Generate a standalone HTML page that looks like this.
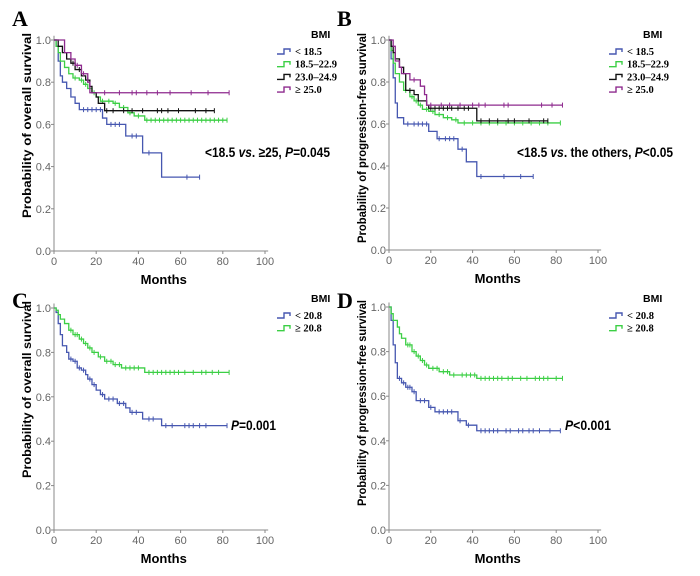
<!DOCTYPE html>
<html><head><meta charset="utf-8"><style>
body{margin:0;background:#fff;width:700px;height:576px;overflow:hidden}
svg{display:block}
text{font-family:"Liberation Sans",sans-serif}
</style></head><body>
<svg id="fig" width="700" height="576"></svg>
<script>
// ---- Data ----
const xTicks=[0,20,40,60,80,100];
const yTicks=[0.0,0.2,0.4,0.6,0.8,1.0];
// Panel A
const aBlueT=[0,1,2,3,4,6,8,10,12,23,25,34,42,51,69];
const aBlueS=[1,0.97,0.9,0.83,0.8,0.77,0.73,0.70,0.67,0.63,0.60,0.545,0.465,0.35,0.35];
const aBlueC=[14,16,18,20,22,27,29,31,37,39,45,63,69];
const aGreenT=[0,1,2,3,5,7,9,12,14,16,18,20,22,28,31,35,38,43,82];
const aGreenS=[1,0.97,0.94,0.9,0.87,0.84,0.82,0.81,0.79,0.77,0.75,0.73,0.71,0.70,0.68,0.655,0.64,0.62,0.62];
const aGreenC=[10,13,15,19,23,26,29,33,36,40,44,46,48,50,52,54,56,58,60,62,64,66,68,70,72,74,76,78,80,82];
const aBlackT=[0,2,4,6,8,10,13,15,17,18,20,21,24,76];
const aBlackS=[1,0.97,0.94,0.91,0.89,0.86,0.83,0.81,0.78,0.75,0.73,0.70,0.665,0.665];
const aBlackC=[9,12,16,25,28,33,37,42,49,51,54,59,67,72,76];
const aPurpleT=[0,5,8,10,13,16,17,83];
const aPurpleS=[1,0.94,0.91,0.88,0.84,0.80,0.75,0.75];
const aPurpleC=[11,14,24,31,37,39,44,49,55,65,73,83];
// Panel B
const bBlueT=[0,1,2,3,4,7,19,23,33,37,42,69];
const bBlueS=[1,0.91,0.82,0.70,0.63,0.60,0.565,0.53,0.48,0.42,0.35,0.35];
const bBlueC=[9,12,14,16,18,24,27,29,31,35,44,55,63,69];
const bGreenT=[0,1,2,3,5,7,10,12,14,16,19,22,26,30,33,82];
const bGreenS=[1,0.95,0.89,0.84,0.80,0.76,0.73,0.71,0.69,0.67,0.66,0.645,0.63,0.62,0.605,0.605];
const bGreenC=[8,11,13,15,18,21,24,28,32,36,40,44,48,52,56,60,64,68,72,76,82];
const bBlackT=[0,1,2,3,5,7,8,12,14,18,19,42,76];
const bBlackS=[1,0.97,0.94,0.91,0.87,0.84,0.76,0.74,0.71,0.69,0.675,0.615,0.615];
const bBlackC=[10,20,22,24,26,28,30,33,36,38,44,48,52,57,60,67,74,76];
const bPurpleT=[0,2,3,5,6,10,15,17,18,83];
const bPurpleS=[1,0.97,0.9,0.87,0.84,0.81,0.78,0.74,0.69,0.69];
const bPurpleC=[12,20,25,29,34,40,43,46,55,57,73,78,83];
// Panel C
const cBlueT=[0,1,2,3,4,6,7,9,11,13,15,16,18,20,22,24,30,34,36,42,51,82];
const cBlueS=[1,0.98,0.93,0.88,0.83,0.80,0.77,0.76,0.73,0.72,0.70,0.68,0.655,0.63,0.61,0.59,0.57,0.55,0.53,0.50,0.47,0.47];
const cBlueC=[8,10,12,14,17,19,23,26,28,31,33,37,39,45,47,53,56,62,64,66,69,72,82];
const cGreenT=[0,1,2,3,5,7,9,12,14,16,18,21,24,28,32,43,83];
const cGreenS=[1,0.99,0.97,0.95,0.93,0.90,0.88,0.86,0.84,0.82,0.80,0.78,0.76,0.745,0.73,0.71,0.71];
const cGreenC=[8,10,11,13,15,17,19,22,25,27,29,31,34,36,38,40,45,47,49,51,53,55,57,59,62,66,70,72,75,78,83];
// Panel D
const dBlueT=[0,1,2,3,4,6,8,11,13,19,22,33,37,42,82];
const dBlueS=[1,0.94,0.83,0.75,0.68,0.66,0.64,0.62,0.58,0.55,0.53,0.49,0.47,0.445,0.445];
const dBlueC=[5,7,9,10,12,15,17,20,24,26,28,30,34,38,44,46,48,50,52,56,58,62,64,67,69,72,77,82];
const dGreenT=[0,1,2,4,5,6,8,11,13,15,17,19,24,29,42,83];
const dGreenS=[1,0.97,0.94,0.91,0.88,0.86,0.83,0.80,0.78,0.76,0.74,0.725,0.71,0.695,0.68,0.68];
const dGreenC=[9,10,12,14,16,18,21,23,26,28,31,35,37,39,41,44,46,48,50,52,54,57,59,63,66,70,72,74,76,80,83];

const NS="http://www.w3.org/2000/svg";
const svg=document.getElementById('fig');
function mk(tag,attrs,parent,txt){const e=document.createElementNS(NS,tag);for(const k in attrs)e.setAttribute(k,attrs[k]);if(txt!==undefined)e.textContent=txt;(parent||svg).appendChild(e);return e;}
const COL={blue:"#4657b0",green:"#3ccf45",black:"#111",purple:"#8e2a8e"};

function panel(id,x0,x100,y1,y0,ytitle,ylen,letter,letterX,letterY,series,legendX,legendY,labels,note,noteX,noteY,noteLen){
  const g=mk('g',{},svg);
  
  
  const sx=v=>x0+(x100-x0)*v/100, sy=v=>y0-(y0-y1)*v;
  const l=mk('text',{x:letterX,y:letterY,'font-size':22,'font-weight':'bold',style:'font-family:"Liberation Serif",serif'},g,letter);
  
  
  const ax=mk('path',{d:`M${x0},${sy(1.02)}V${y0}H${sx(101.5)}`,stroke:'#888',fill:'none','stroke-width':1},g);
  
  
  xTicks.forEach(t=>{
    mk('line',{x1:sx(t),x2:sx(t),y1:y0,y2:y0+3,stroke:'#888'},g);
    const tl=mk('text',{x:sx(t),y:y0+14,'font-size':11,fill:'#666','text-anchor':'middle'},g,t);
    
    
  });
  yTicks.forEach(t=>{
    mk('line',{x1:x0-3,x2:x0,y1:sy(t),y2:sy(t),stroke:'#888'},g);
    const tl=mk('text',{x:x0-3,y:sy(t)+4,'font-size':11,fill:'#666','text-anchor':'end'},g,t.toFixed(1));
    
    
  });
  const xt=mk('text',{x:sx(52),y:y0+33,'font-size':13,'font-weight':'bold','text-anchor':'middle'},g,'Months');
  
  
  const ycx=x0-23, ycy=y1-7+ylen/2;
  const yt=mk('text',{x:ycx,y:ycy,'font-size':12,'font-weight':'bold','text-anchor':'middle',textLength:ylen,lengthAdjust:'spacingAndGlyphs',transform:`rotate(-90 ${ycx} ${ycy})`},g,ytitle);
  
  
  series.forEach(s=>{
    const [T,S,C,col]=s;
    let d=`M${sx(T[0])},${sy(S[0])}`;
    for(let i=1;i<T.length;i++){d+=`H${sx(T[i])}V${sy(S[i])}`;}
    const p=mk('path',{d,stroke:COL[col],fill:'none','stroke-width':1.3},g);
    
    
    C.forEach(c=>{
      let v=S[0];for(let i=0;i<T.length;i++){if(T[i]<=c)v=S[i];}
      const m=mk('line',{x1:sx(c),x2:sx(c),y1:sy(v)-2.5,y2:sy(v)+2.5,stroke:COL[col],'stroke-width':1},g);
      
      
    });
  });
  const lg=mk('g',{},g);
  
  
  mk('text',{x:legendX+34,y:legendY,'font-size':10.5,'font-weight':'bold'},lg,'BMI');
  labels.forEach((lab,i)=>{
    const yy=legendY+14+i*12.7, col=series[i][3];
    const sym=mk('path',{d:`M${legendX},${yy+2}H${legendX+7}V${yy-3}H${legendX+13}V${yy}`,stroke:COL[col],fill:'none','stroke-width':1.4},lg);
    
    
    const tx=mk('text',{x:legendX+18,y:yy+3,'font-size':10.5,'font-weight':'bold',style:'font-family:"Liberation Serif",serif'},lg,lab);
    
    
  });
  const n=mk('text',{x:noteX,y:noteY,'font-size':14,'font-weight':'bold',textLength:noteLen,lengthAdjust:'spacingAndGlyphs'},g);
  n.innerHTML=note;
  
  
}
panel('a',54,265,40,251,'Probability of overall survival',185,'A',12,26,
  [[aBlueT,aBlueS,aBlueC,'blue'],[aGreenT,aGreenS,aGreenC,'green'],[aBlackT,aBlackS,aBlackC,'black'],[aPurpleT,aPurpleS,aPurpleC,'purple']],
  277,38,['< 18.5','18.5–22.9','23.0–24.9','≥ 25.0'],
  '&lt;18.5 <tspan font-style="italic">vs</tspan>. ≥25, <tspan font-style="italic">P</tspan>=0.045',205,157,125);
panel('b',389,598,40,250,'Probability of progression-free survival',210,'B',337,26,
  [[bBlueT,bBlueS,bBlueC,'blue'],[bGreenT,bGreenS,bGreenC,'green'],[bBlackT,bBlackS,bBlackC,'black'],[bPurpleT,bPurpleS,bPurpleC,'purple']],
  609,38,['< 18.5','18.5–22.9','23.0–24.9','≥ 25.0'],
  '&lt;18.5 <tspan font-style="italic">vs</tspan>. the others, <tspan font-style="italic">P</tspan>&lt;0.05',517,157,156);
panel('c',54,265,308,530,'Probability of overall survival',177,'C',12,308,
  [[cBlueT,cBlueS,cBlueC,'blue'],[cGreenT,cGreenS,cGreenC,'green']],
  277,302,['< 20.8','≥ 20.8'],
  '<tspan font-style="italic">P</tspan>=0.001',231,430,45);
panel('d',389,598,307,530,'Probability of progression-free survival',206,'D',337,308,
  [[dBlueT,dBlueS,dBlueC,'blue'],[dGreenT,dGreenS,dGreenC,'green']],
  609,302,['< 20.8','≥ 20.8'],
  '<tspan font-style="italic">P</tspan>&lt;0.001',565,430,46);
</script>
</body></html>
